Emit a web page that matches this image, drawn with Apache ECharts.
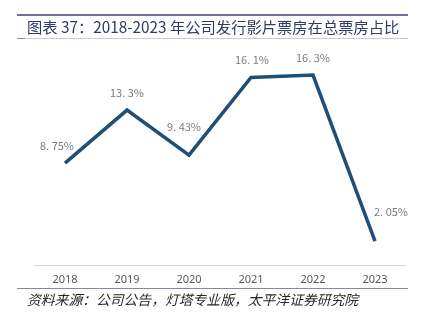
<!DOCTYPE html>
<html>
<head>
<meta charset="utf-8">
<script src="https://cdn.jsdelivr.net/npm/echarts@6/dist/echarts.min.js"></script>
<style>
  html, body { margin: 0; padding: 0; background: #fff; }
  #chart { width: 423px; height: 324px; }
</style>
</head>
<body>
<div id="chart"></div>
<script>
// Share of company-distributed films in total box office, 2018-2023
const years = ['2018', '2019', '2020', '2021', '2022', '2023'];
const shareValues = [8.75, 13.3, 9.43, 16.1, 16.3, 2.05];
const shareLabels = ['8.75%', '13.3%', '9.43%', '16.1%', '16.3%', '2.05%'];

const titleText = '图表 37：2018-2023 年公司发行影片票房在总票房占比';
const sourceText = '资料来源：公司公告，灯塔专业版，太平洋证券研究院';

// per-point label nudges so labels sit clear of the line
const labelOffsets = [[-8, 0], [0, 0], [-5, -11], [1, 0], [0, 0], [16, -12]];

const chart = echarts.init(document.getElementById('chart'), null, { renderer: 'canvas' });

const option = {
  animation: false,
  backgroundColor: '#ffffff',
  grid: { left: 34, right: 17, top: 32, bottom: 59 },
  xAxis: {
    type: 'category',
    data: years,
    boundaryGap: true,
    axisLine: { show: true, lineStyle: { color: '#d9d9d9', width: 1 } },
    axisTick: { show: false },
    axisLabel: { color: '#595959', fontSize: 11, fontFamily: 'Noto Sans', margin: 9 }
  },
  yAxis: {
    type: 'value',
    min: 0,
    max: 20,
    show: false,
    splitLine: { show: false }
  },
  series: [
    {
      type: 'line',
      data: shareValues,
      symbol: 'none',
      lineStyle: { color: '#1f4e79', width: 3.5, join: 'miter' }
    },
    {
      // value labels, positioned from the same data
      type: 'scatter',
      data: shareValues.map((v, i) => ({
        value: v,
        label: { offset: labelOffsets[i] }
      })),
      symbolSize: 2,
      itemStyle: { color: 'rgba(0,0,0,0)' },
      silent: true,
      label: {
        show: true,
        position: 'top',
        distance: 11,
        color: '#595959',
        fontSize: 11,
        fontFamily: 'Noto Sans CJK SC',
        formatter: p => shareLabels[p.dataIndex].replace('.', '. ')
      }
    }
  ],
  graphic: [
    { type: 'rect', shape: { x: 17, y: 14, width: 391, height: 2 }, style: { fill: '#6f6f9c' } },
    {
      type: 'text', x: 27, y: 27,
      style: {
        text: titleText, fill: '#2e3b68',
        font: '15.3px "Noto Sans CJK SC"',
        textVerticalAlign: 'middle'
      }
    },
    { type: 'rect', shape: { x: 17, y: 38, width: 391, height: 1 }, style: { fill: '#c9c9e0' } },
    { type: 'rect', shape: { x: 17, y: 38, width: 8, height: 1 }, style: { fill: '#8a8ab0' } },
    { type: 'rect', shape: { x: 17, y: 288, width: 391, height: 1 }, style: { fill: '#8585ad' } },
    {
      type: 'text', x: 27, y: 300,
      style: {
        text: sourceText, fill: '#262626',
        font: 'italic 13.8px "Noto Sans CJK SC"',
        textVerticalAlign: 'middle'
      }
    }
  ]
};

chart.setOption(option);
</script>
</body>
</html>
